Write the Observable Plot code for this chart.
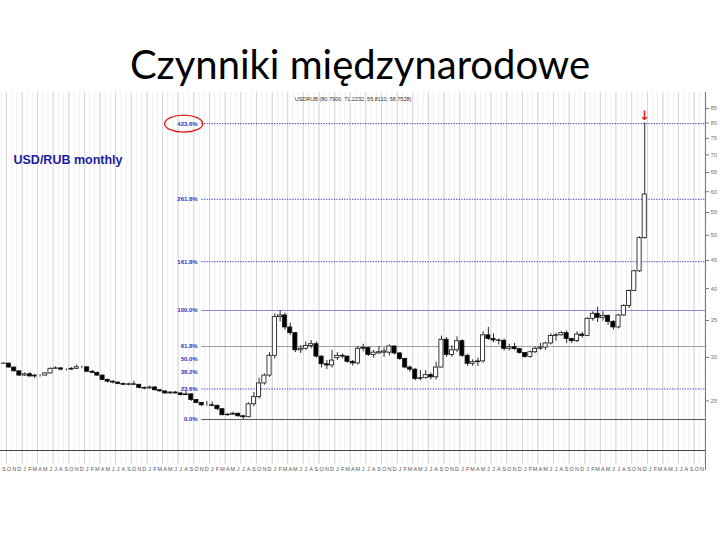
<!DOCTYPE html>
<html><head><meta charset="utf-8">
<script src="https://cdn.jsdelivr.net/npm/d3@7"></script>
<script src="https://cdn.jsdelivr.net/npm/@observablehq/plot@0.6"></script>
<style>
html,body{margin:0;padding:0;background:#fff;width:720px;height:540px;overflow:hidden;}
#title{position:absolute;left:0;width:720px;top:44px;text-align:center;font-family:Lato,"Open Sans",sans-serif;font-size:40px;line-height:40px;color:#000;}
#chart{position:absolute;left:0;top:90px;}
</style></head><body>
<div id="title">Czynniki międzynarodowe</div>
<div id="chart"></div>
<script>
// Monthly USD/RUB candles, Sep 2004 – Dec 2014
const firstMonth = [2004, 8]; // Sep 2004
const open = [
  29.22, 29.23, 28.75, 28.30,
  27.80, 27.95, 27.70, 27.80, 27.80, 28.05, 28.60, 28.65, 28.50, 28.50, 28.60, 28.78,
  28.78, 28.25, 28.12, 27.80, 27.30, 27.10, 27.00, 26.85, 26.75, 26.80, 26.75, 26.40,
  26.33, 26.45, 26.15, 26.02, 25.80, 25.90, 25.80, 25.62, 25.70, 25.10, 24.80, 24.55,
  24.55, 24.50, 24.15, 23.55, 23.60, 23.70, 23.45, 23.35, 24.65, 25.40, 26.90, 27.80,
  30.20, 35.50, 35.75, 34.00, 33.20, 30.90, 31.10, 31.45, 31.70, 30.10, 29.15, 29.00,
  29.90, 30.20, 30.10, 29.45, 29.25, 31.10, 31.20, 30.30, 30.50, 30.60, 30.60, 31.40,
  30.50, 29.80, 28.75, 28.50, 27.40, 27.50, 27.85, 27.60, 28.75, 32.30, 30.30, 30.90,
  32.10, 30.20, 29.20, 29.40, 29.50, 32.90, 32.40, 32.20, 32.15, 31.10, 31.30, 31.05,
  30.55, 30.05, 30.65, 31.10, 31.25, 31.80, 32.80, 32.90, 33.20, 32.40, 32.10, 33.00,
  32.80, 35.25, 36.00, 35.40, 35.70, 34.80, 34.00, 35.75, 37.20, 39.60, 43.00, 49.40
];
const high = [
  29.30, 29.26, 28.78, 28.32,
  28.10, 28.15, 27.95, 27.90, 28.12, 28.70, 28.85, 28.75, 28.60, 28.75, 29.05, 28.90,
  28.80, 28.40, 28.20, 27.85, 27.40, 27.20, 27.05, 26.95, 26.95, 27.15, 26.80, 26.50,
  26.60, 26.55, 26.20, 26.05, 25.95, 26.00, 25.85, 26.00, 25.75, 25.15, 24.85, 24.95,
  24.90, 24.55, 24.20, 23.75, 23.85, 23.75, 23.50, 24.80, 25.90, 27.50, 28.00, 30.60,
  36.00, 36.50, 36.10, 34.60, 33.30, 31.50, 32.00, 32.20, 32.00, 30.20, 29.60, 30.90,
  30.60, 30.45, 30.15, 29.60, 31.40, 31.70, 31.30, 30.90, 31.40, 31.20, 31.60, 31.45,
  30.60, 29.90, 28.95, 28.60, 28.40, 28.40, 28.10, 29.40, 32.80, 32.60, 31.50, 32.70,
  32.30, 30.40, 29.70, 29.90, 33.40, 34.00, 33.10, 32.40, 32.40, 31.70, 31.80, 31.10,
  30.60, 30.80, 31.30, 31.80, 31.95, 33.10, 33.20, 33.40, 33.50, 32.50, 33.40, 33.30,
  35.40, 36.30, 37.00, 36.30, 35.80, 35.00, 35.90, 37.40, 39.80, 43.20, 49.70, 80.00
];
const low = [
  29.15, 28.70, 28.22, 27.72,
  27.70, 27.62, 27.45, 27.62, 27.75, 28.00, 28.55, 28.35, 28.35, 28.40, 28.55, 28.60,
  28.15, 28.05, 27.70, 27.20, 26.95, 26.85, 26.75, 26.65, 26.62, 26.70, 26.30, 26.18,
  26.28, 26.05, 25.95, 25.70, 25.70, 25.75, 25.50, 25.55, 24.95, 24.70, 24.40, 24.45,
  24.40, 24.00, 23.50, 23.45, 23.55, 23.35, 23.13, 23.30, 24.40, 25.20, 26.70, 27.60,
  29.80, 34.80, 33.60, 32.90, 30.60, 30.50, 30.90, 31.10, 29.90, 28.70, 28.50, 28.70,
  29.60, 29.80, 29.30, 28.95, 29.05, 30.70, 30.10, 29.90, 30.40, 30.00, 30.20, 30.30,
  29.60, 28.60, 28.20, 27.20, 27.20, 27.40, 27.30, 27.30, 28.70, 30.00, 30.00, 30.60,
  30.00, 28.90, 28.90, 28.90, 29.30, 32.20, 31.90, 31.60, 30.80, 30.80, 30.90, 30.40,
  29.90, 29.90, 30.50, 30.90, 30.90, 31.60, 32.10, 32.80, 31.80, 31.80, 31.90, 32.50,
  32.70, 34.90, 34.70, 34.90, 34.30, 33.60, 33.80, 35.60, 36.80, 39.50, 42.80, 49.20
];
const close = [
  29.23, 28.75, 28.30, 27.80,
  27.95, 27.70, 27.80, 27.80, 28.05, 28.60, 28.65, 28.50, 28.50, 28.60, 28.78, 28.78,
  28.25, 28.12, 27.80, 27.30, 27.10, 27.00, 26.85, 26.75, 26.80, 26.75, 26.40, 26.33,
  26.45, 26.15, 26.02, 25.80, 25.90, 25.80, 25.62, 25.70, 25.10, 24.80, 24.55, 24.55,
  24.50, 24.15, 23.55, 23.60, 23.70, 23.45, 23.35, 24.65, 25.40, 26.90, 27.80, 30.20,
  35.50, 35.75, 34.00, 33.20, 30.90, 31.10, 31.45, 31.70, 30.10, 29.15, 29.00, 29.60,
  30.20, 30.10, 29.45, 29.25, 31.10, 31.20, 30.30, 30.60, 30.65, 30.75, 31.40, 30.50,
  29.80, 28.75, 28.50, 27.40, 27.50, 27.85, 27.60, 28.75, 32.30, 30.30, 30.90, 32.10,
  30.20, 29.20, 29.40, 29.50, 32.90, 32.40, 32.20, 32.15, 31.10, 31.30, 31.05, 30.55,
  30.05, 30.65, 31.10, 31.25, 31.80, 32.80, 32.90, 33.20, 32.40, 32.10, 33.00, 32.80,
  35.25, 36.00, 35.40, 35.70, 34.80, 34.00, 35.75, 37.20, 39.60, 43.00, 49.40, 59.30
];
const fibRatios = [0, 23.6, 38.2, 50, 61.8, 100, 161.8, 261.8, 423.6];
const yTicks = [25, 30, 35, 40, 45, 50, 55, 60, 65, 70, 75, 80, 85];
const headerText = "USDRUB (80.7900, 71.2232, 55.8110, 58.7528)";
const seriesLabel = "USD/RUB monthly";
const monthLetters = "JFMAMJJASOND";

// ---- build
const t0 = new Date(Date.UTC(firstMonth[0], firstMonth[1], 1));
const candles = open.map((o, i) => ({
  date: d3.utcMonth.offset(t0, i), open: o, high: high[i], low: low[i], close: close[i]
}));
const swingLow = d3.min(candles, d => d.low);
const swingHigh = d3.max(candles.filter(d => d.date < Date.UTC(2010, 0, 1)), d => d.high);
const fib = fibRatios.map(r => ({r, price: swingLow + r / 100 * (swingHigh - swingLow), label: r.toFixed(1) + "%"}));

const xDomain = [new Date(Date.UTC(2004, 7, 28)), new Date(Date.UTC(2015, 11, 6))];
const yDomain = [20.32, 90.86];
const fibStart = new Date(Date.UTC(2007, 10, 16));
const mid = d => d3.utcDay.offset(d.date, 15);

const allMonths = d3.utcMonth.range(xDomain[0], xDomain[1]);
const quarterMonths = allMonths.filter(d => d.getUTCMonth() % 3 === 0);
const minorTicks = d3.range(21, 90).filter(v => v % 5 !== 0);

const dotted = fib.filter(d => [23.6, 161.8, 261.8, 423.6].includes(d.r));
const ellipse = {draw(ctx) {
  const rx = 19, ry = 8.5, k = 0.5523;
  ctx.moveTo(rx, 0);
  ctx.bezierCurveTo(rx, ry * k, rx * k, ry, 0, ry);
  ctx.bezierCurveTo(-rx * k, ry, -rx, ry * k, -rx, 0);
  ctx.bezierCurveTo(-rx, -ry * k, -rx * k, -ry, 0, -ry);
  ctx.bezierCurveTo(rx * k, -ry, rx, -ry * k, rx, 0);
  ctx.closePath();
}};
const font = "Liberation Sans, Arial, sans-serif";

const chart = Plot.plot({
  width: 720, height: 390,
  marginLeft: 0, marginRight: 15, marginTop: 2, marginBottom: 30,
  style: {fontFamily: font, fontSize: "6px", color: "#777", background: "transparent", overflow: "visible"},
  x: {type: "utc", domain: xDomain, axis: null},
  y: {type: "log", domain: yDomain, axis: "right", ticks: yTicks, tickFormat: d => String(d), tickSize: 3, tickPadding: 2, label: null},
  color: {type: "identity"},
  marks: [
    Plot.ruleX(allMonths, {stroke: "#efefef", strokeWidth: 1, insetBottom: -14}),
    Plot.ruleX(quarterMonths, {stroke: "#d6d6d6", strokeWidth: 1, insetBottom: -14}),
    Plot.ruleY(dotted, {y: "price", x1: () => fibStart, x2: () => xDomain[1], stroke: "#3a3ac8", strokeWidth: 1, strokeDasharray: "1.3,1.3"}),
    Plot.ruleY(fib.filter(d => d.r === 100), {y: "price", x1: () => fibStart, x2: () => xDomain[1], stroke: "#8b8bd6", strokeWidth: 1}),
    Plot.ruleY(fib.filter(d => d.r === 61.8), {y: "price", x1: () => fibStart, x2: () => xDomain[1], stroke: "#a0a0a0", strokeWidth: 1}),
    Plot.ruleY(fib.filter(d => d.r === 0), {y: "price", x1: () => fibStart, x2: () => xDomain[1], stroke: "#555", strokeWidth: 1}),
    Plot.text(fib, {x: () => fibStart, y: "price", text: "label", textAnchor: "end", dx: -4, fontSize: 6, fontWeight: "bold", fill: "#3030c0"}),
    Plot.dot(fib.filter(d => d.r === 423.6), {x: () => fibStart, y: "price", dx: -18, symbol: ellipse, stroke: "#e01a1a", strokeWidth: 1.3, fill: "none"}),
    Plot.ruleY([yDomain[0]], {stroke: "#444", strokeWidth: 1.2}),
    Plot.ruleX([xDomain[1]], {stroke: "#777", strokeWidth: 1, insetBottom: -20}),
    Plot.ruleY(minorTicks, {y: d => d, x1: () => xDomain[1], x2: () => d3.utcDay.offset(xDomain[1], 9), stroke: "#aaa", strokeWidth: 0.6}),
    Plot.ruleX(candles, {x: mid, y1: "low", y2: "high", stroke: "#111", strokeWidth: 0.9}),
    Plot.rect(candles, {x1: d => d3.utcDay.offset(d.date, 3), x2: d => d3.utcDay.offset(d.date, 27), y1: "open", y2: "close",
      fill: d => d.close >= d.open ? "white" : "black", stroke: "#111", strokeWidth: 0.8}),
    Plot.text(candles.slice(-1), {x: mid, y: "high", text: () => "↓", dy: -7, fill: "#e01a1a", fontSize: 13, fontWeight: "bold", fontFamily: "DejaVu Sans"}),
    Plot.text([headerText], {frameAnchor: "top", dy: 5, fontSize: 5.5, fill: "#333"}),
    Plot.text([seriesLabel], {frameAnchor: "top-left", dx: 13, dy: 63, textAnchor: "start", fontSize: 12.5, fontWeight: "bold", fill: "#1c1ca0"}),
    Plot.text(allMonths.filter(d => d >= t0 && d < Date.UTC(2015, 11, 1)), {x: d => d3.utcDay.offset(d, 15), frameAnchor: "bottom", dy: 20, text: d => monthLetters[d.getUTCMonth()], fontSize: 5.5, fill: "#555"})
  ]
});
document.getElementById("chart").appendChild(chart);
</script></body></html>
